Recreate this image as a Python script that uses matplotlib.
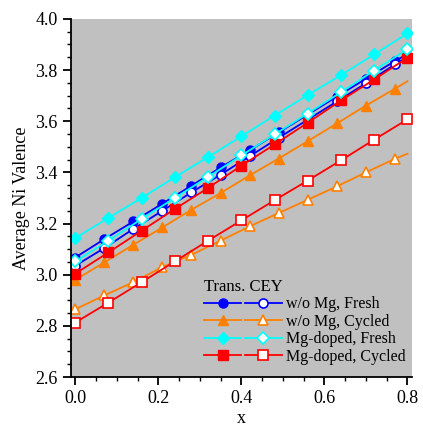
import numpy as np
import matplotlib
matplotlib.use("Agg")
import matplotlib.pyplot as plt
from matplotlib.legend_handler import HandlerTuple
from matplotlib.ticker import MultipleLocator

plt.rcParams['font.family'] = ['Liberation Serif', 'DejaVu Serif']

# w/o Mg samples: markers every 0.07, line runs to 0.8
x_wo = [0.0, 0.07, 0.14, 0.21, 0.28, 0.35, 0.42, 0.49, 0.56, 0.63, 0.70, 0.77, 0.80]
wo_fresh_tey = [3.067, 3.139, 3.208, 3.278, 3.348, 3.419, 3.486, 3.556, 3.626, 3.696, 3.766, 3.835, 3.862]
wo_fresh_cey = [3.035, 3.104, 3.179, 3.250, 3.322, 3.391, 3.463, 3.535, 3.606, 3.677, 3.748, 3.822, 3.850]
wo_cyc_tey = [2.980, 3.048, 3.117, 3.185, 3.254, 3.319, 3.388, 3.454, 3.522, 3.591, 3.661, 3.727, 3.756]
wo_cyc_cey = [2.865, 2.919, 2.971, 3.030, 3.078, 3.133, 3.189, 3.241, 3.293, 3.345, 3.400, 3.453, 3.473]

# Mg-doped samples: markers every 0.08
x_mg = [0.0, 0.08, 0.16, 0.24, 0.32, 0.40, 0.48, 0.56, 0.64, 0.72, 0.80]
mg_fresh_tey = [3.143, 3.222, 3.300, 3.381, 3.460, 3.541, 3.622, 3.702, 3.780, 3.861, 3.943]
mg_fresh_cey = [3.052, 3.133, 3.218, 3.300, 3.382, 3.466, 3.548, 3.630, 3.713, 3.798, 3.881]
mg_cyc_tey = [3.004, 3.087, 3.172, 3.257, 3.339, 3.426, 3.509, 3.594, 3.681, 3.763, 3.848]
mg_cyc_cey = [2.813, 2.891, 2.971, 3.052, 3.133, 3.212, 3.291, 3.368, 3.447, 3.528, 3.607]

labels = ["w/o Mg, Fresh", "w/o Mg, Cycled", "Mg-doped, Fresh", "Mg-doped, Cycled"]
blue = "#0000ff"
orange = "#ff8000"
cyan = "#00ffff"
red = "#ff0000"

fig = plt.figure(figsize=(4.23, 4.28), dpi=100)
ax = fig.add_axes([0.168, 0.119, 0.807, 0.837])
ax.set_facecolor("#c0c0c0")

mk_wo = list(range(len(x_wo) - 1))
ms = 6.5
lw = 1.3

def pair(x, yf, yo, color, marker, me=None):
    a, = ax.plot(x, yf, color=color, lw=lw, marker=marker, ms=ms, mfc=color, mec=color, markevery=me)
    b, = ax.plot(x, yo, color=color, lw=lw, marker=marker, ms=ms, mfc="white", mec=color, mew=1.2, markevery=me)
    return (a, b)

h1 = pair(x_wo, wo_fresh_tey, wo_fresh_cey, blue, "o", mk_wo)
h2 = pair(x_wo, wo_cyc_tey, wo_cyc_cey, orange, "^", mk_wo)
h4 = pair(x_mg, mg_cyc_tey, mg_cyc_cey, red, "s")
h3 = pair(x_mg, mg_fresh_tey, mg_fresh_cey, cyan, "D")

ax.set_xlim(-0.01, 0.812)
ax.set_ylim(2.6, 4.0)
ax.xaxis.set_major_locator(MultipleLocator(0.2))
ax.xaxis.set_minor_locator(MultipleLocator(0.05))
ax.yaxis.set_major_locator(MultipleLocator(0.2))
ax.yaxis.set_minor_locator(MultipleLocator(0.05))
ax.xaxis.set_major_formatter(plt.FormatStrFormatter("%.1f"))
ax.yaxis.set_major_formatter(plt.FormatStrFormatter("%.1f"))
ax.tick_params(which="major", direction="out", length=6, width=1.3, labelsize=13)
ax.tick_params(which="minor", direction="out", length=3, width=1.0)
for s in ["top", "right"]:
    ax.spines[s].set_visible(False)
for s in ["left", "bottom"]:
    ax.spines[s].set_linewidth(1.3)

ax.set_xlabel("x", fontsize=13, labelpad=2)
ax.set_ylabel("Average Ni Valence", fontsize=13, labelpad=4)

leg = ax.legend([h1, h2, h3, h4], labels, title="Trans. CEY", loc="lower right",
                bbox_to_anchor=(0.99, 0.025), frameon=False, fontsize=11.5,
                title_fontsize=12, handlelength=4.9, handletextpad=0.25,
                labelspacing=0.1, borderaxespad=0.0, borderpad=0.2,
                handler_map={tuple: HandlerTuple(ndivide=None, pad=0.2)})
leg._legend_box.align = "left"

fig.savefig("out.png", dpi=100)
